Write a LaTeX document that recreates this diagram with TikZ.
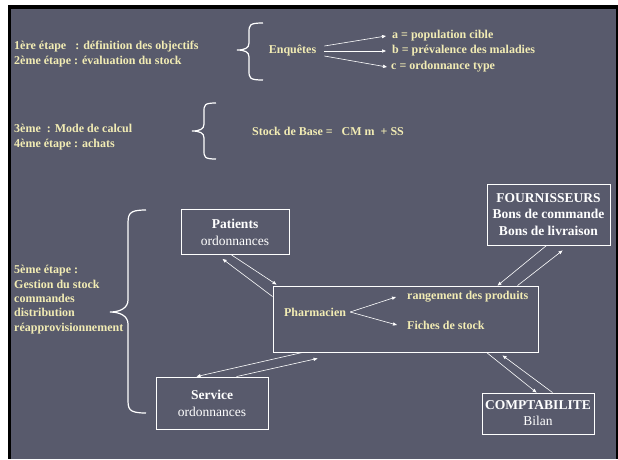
\documentclass[tikz,border=0pt]{standalone}
\usepackage{fontspec}
\setmainfont{Liberation Serif}
\usetikzlibrary{arrows.meta,calc}
\definecolor{bg}{RGB}{88,90,108}
\definecolor{cream}{RGB}{242,236,180}
\begin{document}
\begin{tikzpicture}[x=1pt,y=-1pt,
  crm/.style={text=cream,font=\fontsize{12}{15}\selectfont\bfseries,inner sep=0pt},
  boxt/.style={draw=white,line width=0.9pt,text=white,align=center,font=\fontsize{13.5}{17}\selectfont,inner sep=0pt},
  arr/.style={draw=white,line width=0.6pt,-{Triangle[length=4pt,width=3.2pt]}},
  brc/.style={draw=white,line width=1.2pt}]
\useasboundingbox (0,0) rectangle (618,459);
\fill[white] (0,0) rectangle (618,459);
\fill[black] (8,5) rectangle (618,459);
\fill[bg] (11,9) rectangle (616,459);

% stage texts
\node[crm,anchor=west,align=left] (s12) at (14,54.2) {1ère étape~~~: définition des objectifs\\2ème étape : évaluation du stock};
\node[crm,anchor=west,align=left] (s34) at (14,137) {3ème~~: Mode de calcul\\4ème étape : achats};
\node[crm,anchor=west,align=left,font=\fontsize{12}{14.3}\selectfont\bfseries] (s5) at (14,299.5) {5ème étape :\\Gestion du stock\\commandes\\distribution\\réapprovisionnement};

% braces
\draw[brc] (263,23) .. controls (249,23) and (249,25) .. (249,33) -- (249,43) .. controls (249,48) and (245,50) .. (237,50) .. controls (245,50) and (249,52) .. (249,57) -- (249,70) .. controls (249,78) and (249,80) .. (263,80);
\draw[brc] (216,103) .. controls (204,103) and (204,105) .. (204,112) -- (204,124) .. controls (204,129) and (200,131) .. (192,131) .. controls (200,131) and (204,133) .. (204,138) -- (204,150) .. controls (204,157) and (204,159) .. (216,159);
\draw[brc] (146,210) .. controls (128,210) and (128,214) .. (128,226) -- (128,300) .. controls (128,308) and (120,312) .. (110,312) .. controls (120,312) and (128,316) .. (128,324) -- (128,398) .. controls (128,409) and (128,413) .. (146,413);

% enquetes
\node[crm] (enq) at (292.5,51) {Enquêtes};
\node[crm,anchor=west] (a) at (392,36) {a = population cible};
\node[crm,anchor=west] (b) at (392,51) {b = prévalence des maladies};
\node[crm,anchor=west] (c) at (391,67) {c = ordonnance type};
\draw[arr] ($(enq.east)+(8,-5)$) -- ($(a.west)+(-6,0)$);
\draw[arr] ($(enq.east)+(8,0)$) -- ($(b.west)+(-6,0)$);
\draw[arr] ($(enq.east)+(8,5)$) -- ($(c.west)+(-4,0)$);

% stock
\node[crm,anchor=west] (stock) at (252,131) {Stock de Base =~~~CM m~~+ SS};

% boxes
\node[boxt,minimum width=108pt,minimum height=45pt] (pat) at (235,232) {\textbf{Patients}\\ordonnances};
\node[boxt,minimum width=123pt,minimum height=61pt,font=\fontsize{13.5}{16.5}\selectfont\bfseries] (four) at (548.5,214.5) {FOURNISSEURS\\Bons de commande\\Bons de livraison};
\node[boxt,minimum width=112pt,minimum height=52pt] (serv) at (212,403) {\textbf{Service}\\ordonnances};
\node[boxt,minimum width=112pt,minimum height=41pt,font=\fontsize{13.5}{16}\selectfont] (comp) at (538,413.5) {\textbf{COMPTABILITE}\\Bilan};
\node[draw=white,line width=0.9pt,minimum width=265pt,minimum height=66pt,inner sep=0pt] (ph) at (405.5,319) {};

% pharmacien
\node[crm] (phn) at (315,312) {Pharmacien};
\node[crm,anchor=west] (rg) at (407,297) {rangement des produits};
\node[crm,anchor=west] (fs) at (407,325) {Fiches de stock};
\draw[arr] ($(phn.east)+(4,0)$) -- ($(rg.west)+(-11,0)$);
\draw[arr] ($(phn.east)+(4,0)$) -- ($(fs.west)+(-10,0)$);

% connectors
\draw[arr] ($(pat.south west)+(51,0)$) -- ($(ph.north west)+(4,-1)$);
\draw[arr] ($(ph.north west)+(0,11)$) -- ($(pat.south west)+(42,4)$);
\draw[arr] ($(four.south west)+(60,0)$) -- ($(ph.north west)+(225,0)$);
\draw[arr] ($(ph.north west)+(245,0)$) -- ($(four.south west)+(76,5)$);
\draw[arr] ($(ph.south west)+(30,0)$) -- ($(serv.north west)+(41,0)$);
\draw[arr] ($(serv.north west)+(81,0)$) -- ($(ph.south west)+(45,6)$);
\draw[arr] ($(ph.south west)+(214,0)$) -- ($(comp.north west)+(55,0)$);
\draw[arr] ($(comp.north west)+(71,0)$) -- ($(ph.south west)+(230,3)$);
\end{tikzpicture}
\end{document}
